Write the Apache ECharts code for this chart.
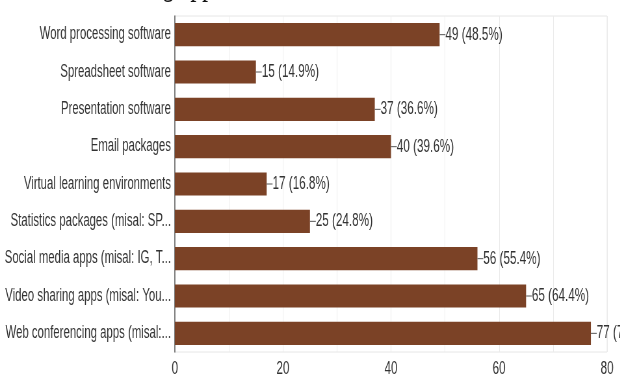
<!DOCTYPE html>
<html>
<head>
<meta charset="utf-8">
<script src="https://cdn.jsdelivr.net/npm/echarts@6/dist/echarts.min.js"></script>
<style>
  html, body { margin: 0; padding: 0; background: #fff; overflow: hidden; }
  /* the source picture is squeezed sideways, so draw wide and squeeze the same way */
  #chart { width: 954px; height: 381px; transform: scaleX(0.65); transform-origin: 0 0; }
</style>
</head>
<body>
<div id="chart"></div>
<script>
var categories = [
  "Word processing software",
  "Spreadsheet software",
  "Presentation software",
  "Email packages",
  "Virtual learning environments",
  "Statistics packages (misal: SP...",
  "Social media apps (misal: IG, T...",
  "Video sharing apps (misal: You...",
  "Web conferencing apps (misal:..."
];
var counts = [49, 15, 37, 40, 17, 25, 56, 65, 77];
var percents = ["48.5", "14.9", "36.6", "39.6", "16.8", "24.8", "55.4", "64.4", "76.2"];
var xTicks = [0, 20, 40, 60, 80];

var font = "'Liberation Sans', Arial, sans-serif";
var myChart = echarts.init(document.getElementById("chart"));

var option = {
  animation: false,
  graphic: [{
    type: "text",
    x: 138,
    y: -15,
    style: {
      text: "Learning applications",
      font: "36px 'Liberation Serif', serif",
      fill: "#111",
      verticalAlign: "middle"
    }
  }],
  grid: {
    left: 269,
    right: 20,
    top: 16,
    bottom: 29,
    containLabel: false,
    outerBoundsMode: "none",
    show: true,
    borderColor: "#e6e6e6",
    borderWidth: 1
  },
  xAxis: {
    type: "value",
    min: 0,
    max: 80,
    interval: 10,
    axisLine: { show: false },
    axisTick: { show: false },
    splitLine: { lineStyle: { color: "#ebebeb", width: 1 } },
    axisLabel: {
      margin: 8,
      color: "#333",
      fontSize: 18,
      fontFamily: font,
      formatter: function (v) {
        return xTicks.indexOf(v) >= 0 ? String(v) : "";
      }
    }
  },
  yAxis: {
    type: "category",
    inverse: true,
    data: categories,
    axisLine: { show: true, lineStyle: { color: "#555", width: 1.5 } },
    axisTick: { show: false },
    axisLabel: {
      margin: 6,
      color: "#333",
      fontSize: 17.5,
      fontFamily: font
    }
  },
  series: [{
    type: "bar",
    data: counts,
    barWidth: "62%",
    itemStyle: { color: "#7b4226" },
    label: {
      show: true,
      position: "right",
      distance: 0,
      color: "#333",
      fontSize: 18,
      fontFamily: font,
      formatter: function (p) {
        return "{ln| }" + p.value + " (" + percents[p.dataIndex] + "%)";
      },
      rich: {
        ln: { width: 9, height: 1, backgroundColor: "#555" }
      }
    }
  }]
};
myChart.setOption(option);
</script>
</body>
</html>
